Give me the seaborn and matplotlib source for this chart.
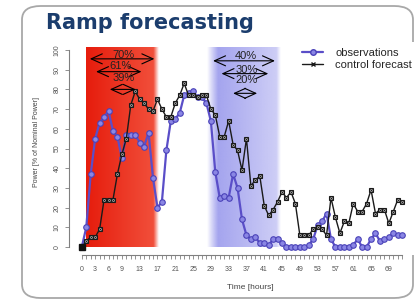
import numpy as np
import pandas as pd
import matplotlib
matplotlib.use("Agg")
import matplotlib.pyplot as plt
from matplotlib.lines import Line2D
from matplotlib.patches import FancyBboxPatch
import seaborn as sns

# hourly values (power in % of nominal power)
observations = [0, 10, 37, 55, 63, 66, 69, 59, 56, 45, 57, 57, 57, 53, 51, 58, 35, 20, 23, 49,
                64, 65, 68, 77, 78, 79, 76, 76, 73, 64, 38, 25, 26, 25, 37, 30, 14, 6, 4, 5,
                2, 2, 1, 4, 4, 2, 0, 0, 0, 0, 0, 1, 4, 11, 13, 17, 4, 0, 0, 0,
                0, 1, 4, 0, 0, 4, 7, 3, 4, 5, 7, 6, 6]
control_forecast = [0, 3, 5, 5, 9, 24, 24, 24, 37, 47, 55, 72, 79, 75, 73, 70, 69, 75, 70, 66,
                    66, 73, 77, 83, 77, 77, 76, 77, 77, 70, 67, 56, 56, 64, 52, 49, 39, 55, 31, 34,
                    36, 21, 16, 19, 23, 28, 25, 28, 22, 6, 6, 6, 9, 10, 9, 6, 25, 15, 7, 13,
                    12, 22, 18, 18, 22, 29, 17, 19, 19, 12, 18, 24, 23]
hours = np.arange(len(observations))

x_labeled = [0, 3, 6, 9, 13, 17, 21, 25, 29, 33, 37, 41, 45, 49, 53, 57, 61, 65, 69]
y_ticks = [0, 10, 20, 30, 40, 50, 60, 70, 80, 90, 100]

# ramp annotations: (start hour, end hour, arrow level, label, label level)
red_ramps = [(1.8, 16.3, 95.5, "70%", 97.5), (3.2, 13.4, 89.0, "61%", 91.8), (6.3, 12.1, 80.0, "39%", 86.0)]
blue_ramps = [(29.5, 43.4, 94.5, "40%", 97.0), (31.4, 41.9, 88.0, "30%", 90.0), (34.0, 39.4, 78.0, "20%", 85.0)]
red_band = (0.9, 17.3)
blue_band = (28.2, 44.8)

df = pd.DataFrame({"hour": hours, "obs": observations, "ctrl": control_forecast})

sns.set_style("white")
plt.rcParams["font.family"] = ["Liberation Sans", "DejaVu Sans"]

fig = plt.figure(figsize=(4.16, 3.03), dpi=100)
ax = fig.add_axes([69 / 416, 48.1 / 303, 346 / 416, 212.8 / 303])
ax.set_xlim(-2.88, 74.88)
ax.set_ylim(-4, 104)

# gradient bands
n = 300
t = np.linspace(0, 1, n)
red = np.zeros((1, n, 4))
red[0, :, 0] = (230 + 12 * t) / 255
red[0, :, 1] = (28 + 55 * t) / 255
red[0, :, 2] = (12 + 50 * t) / 255
red_h = red_band[0] + t * (red_band[1] - red_band[0])
red[0, :, 3] = np.clip((red_band[1] - red_h) / 1.2, 0, 1)
ax.imshow(red, extent=[red_band[0], red_band[1], 0, 101], aspect="auto",
          interpolation="bilinear", zorder=0)

blue = np.zeros((1, n, 4))
blue[0, :, 0] = 118 / 255
blue[0, :, 1] = 118 / 255
blue[0, :, 2] = 230 / 255
blue_h = blue_band[0] + t * (blue_band[1] - blue_band[0])
a_in = np.clip((blue_h - blue_band[0]) / 2.5, 0, 1)
a_out = np.clip((blue_band[1] - blue_h) / 1.0, 0, 1)
blue[0, :, 3] = a_in * a_out * (0.72 - 0.38 * t)
ax.imshow(blue, extent=[blue_band[0], blue_band[1], 0, 101], aspect="auto",
          interpolation="bilinear", zorder=0)

# series
sns.lineplot(data=df, x="hour", y="obs", ax=ax, color="#5a4ec8", lw=1.6, marker="o",
             markersize=4.0, markerfacecolor="#8a86e4", markeredgecolor="#4a42b8",
             markeredgewidth=0.8, zorder=3)
sns.lineplot(data=df, x="hour", y="ctrl", ax=ax, color="#1a1a1a", lw=1.0, marker="s",
             markersize=3.4, markerfacecolor="#d8d8d8", markeredgecolor="#1a1a1a",
             markeredgewidth=0.8, zorder=4)
sns.scatterplot(data=df, x="hour", y="ctrl", ax=ax, marker="x", s=3, color="#1a1a1a",
                linewidth=0.6, zorder=5)
ax.plot(hours[:1], control_forecast[:1], marker="s", ms=4, color="#111111", zorder=6)

# ramp arrows
for x0, x1, y, lab, ly in red_ramps + blue_ramps:
    ax.annotate("", xy=(x0, y), xytext=(x1, y),
                arrowprops=dict(arrowstyle="<->,head_length=0.8,head_width=0.36",
                                color="black", lw=0.8, shrinkA=0, shrinkB=0,
                                mutation_scale=10), zorder=6)
    ax.text((x0 + x1) / 2 + 0.3, ly, lab, ha="center", va="center", fontsize=8,
            color="#222222", zorder=7)

# axes in R style
sns.despine(ax=ax)
ax.spines["left"].set_bounds(0, 100)
ax.spines["bottom"].set_bounds(0, 72)
for s in ["left", "bottom"]:
    ax.spines[s].set_color("#808080")
    ax.spines[s].set_linewidth(0.8)
ax.set_xticks(hours)
ax.set_xticklabels([str(h) if h in x_labeled else "" for h in hours])
ax.set_yticks(y_ticks)
ax.set_yticklabels([str(v) for v in y_ticks], rotation=90, va="center")
ax.tick_params(axis="x", length=3, width=0.6, color="#808080", pad=5, labelsize=5,
               labelcolor="#555555", bottom=True)
ax.tick_params(axis="y", length=3, width=0.6, color="#808080", pad=3, labelsize=5,
               labelcolor="#555555", left=True)
ax.set_xlabel("Time [hours]", fontsize=6, color="#444444")
ax.set_ylabel("Power [% of Nominal Power]", fontsize=5, color="#444444")
ax.xaxis.set_label_coords(0.523, -0.135)
ax.yaxis.set_label_coords(-0.085, 0.53)

handles = [Line2D([], [], color="#5a4ec8", lw=1.6, marker="o", markersize=4,
                  markerfacecolor="#8a86e4", markeredgecolor="#4a42b8"),
           Line2D([], [], color="#1a1a1a", lw=1.0, marker="x", markersize=3.5)]
fig.legend(handles, ["observations", "control forecast"], loc="upper left",
           bbox_to_anchor=(301.7 / 416, 1 - 48 / 303), frameon=False, fontsize=8,
           handlelength=1.95, handletextpad=1.05, labelspacing=0.2,
           borderpad=0, borderaxespad=0)

# title and rounded frame
fig.text(46.5 / 416, 1 - 13 / 303, "Ramp forecasting", family="DejaVu Sans",
         weight="bold", fontsize=15, color="#1b3d6d", ha="left", va="top")
frame = FancyBboxPatch((22 / 416, 5 / 303), 391 / 416, 292 / 303,
                       boxstyle="round,pad=0,rounding_size=0.045",
                       transform=fig.transFigure, facecolor="none",
                       edgecolor="#a8a8a8", lw=1.3, zorder=-1)
fig.patches.append(frame)

fig.savefig("out.png", dpi=100)
